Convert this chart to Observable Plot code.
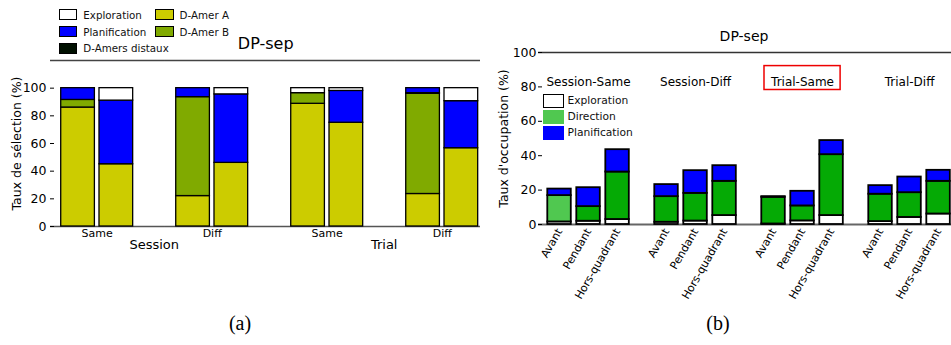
<!DOCTYPE html>
<html><head><meta charset="utf-8">
<script src="https://cdn.jsdelivr.net/npm/d3@7"></script>
<script src="https://cdn.jsdelivr.net/npm/@observablehq/plot@0.6"></script>
<style>
body{margin:0;background:#fff;font-family:"DejaVu Sans",sans-serif;}
#root{position:relative;width:951px;height:345px;overflow:hidden;background:#fff}
#root svg{max-width:none !important;}
.panel{position:absolute;top:0;overflow:hidden}
.title{position:absolute;transform:translate(-50%,-50%);white-space:nowrap;color:#000;font-family:"DejaVu Sans",sans-serif}
.lg-item{position:absolute;display:flex;align-items:center;white-space:nowrap;color:#111;font-family:"DejaVu Sans",sans-serif}
.sw{box-sizing:border-box;display:inline-block}
.caption{position:absolute;font-family:"Liberation Serif",serif;font-size:20px;transform:translate(-50%,-50%)}
</style></head><body><div id="root">
<div id="pa" class="panel" style="left:0;width:480px;height:300px"></div>
<div id="pb" class="panel" style="left:490px;width:461px;height:310px"></div>
</div>
<script>
// ---------- Panel (a) data ----------
const groupsA = ["Session-Same","Session-Diff","Trial-Same","Trial-Diff"];
const barsA = ["1","2"];
const seriesA = ["D-Amer A","D-Amer B","D-Amers distaux","Planification","Exploration"];
const damerA  = [86.0, 45.0, 22.0, 46.0, 88.7, 75.0, 23.5, 56.6];
const damerB  = [ 5.5,  0.0, 71.5,  0.0,  7.7,  0.0, 72.4,  0.0];
const distaux = [ 0.0,  0.0,  0.0,  0.0,  0.0,  0.0,  0.5,  0.0];
const planifA = [ 8.5, 46.0,  6.5, 49.5,  0.0, 23.0,  3.6, 34.0];
const explorA = [ 0.0,  9.0,  0.0,  4.5,  3.6,  2.0,  0.0,  9.4];
const yTicksA = [0,20,40,60,80,100];
const levelsA = ["Session","Trial"];
const legendOrderA = ["Exploration","Planification","D-Amers distaux","D-Amer A","D-Amer B"];

// ---------- Panel (b) data ----------
const groupsB = ["Session-Same","Session-Diff","Trial-Same","Trial-Diff"];
const phasesB = ["Avant","Pendant","Hors-quadrant"];
const seriesB = ["Exploration","Direction","Planification"];
const explorB    = [1.5, 1.9,  2.9, 1.3,  2.0,  5.2, 0.3, 2.1,  5.2, 1.7,  4.1,  6.1];
const directionB = [15.3, 8.5, 27.6, 14.9, 16.1, 19.9, 15.5, 8.7, 35.4, 15.9, 14.4, 19.0];
const planifB    = [3.8, 11.0, 13.0, 7.0, 13.2,  9.1, 0.4, 8.5,  8.2, 5.0,  9.1,  6.4];
const yTicksB = [0,20,40,60,80,100];
const highlightB = ["Trial-Same"];

// ---------- styles ----------
const colorsA = {"D-Amer A":"#cccc00","D-Amer B":"#80aa00","D-Amers distaux":"#001000","Planification":"#0000ff","Exploration":"#ffffff"};
const colorsB = {"Exploration":"#ffffff","Direction":"#05aa05","Planification":"#0000ff"};
const firstDirection = "#50c850";

// ---------- long tables ----------
const valsA = {"D-Amer A":damerA,"D-Amer B":damerB,"D-Amers distaux":distaux,"Planification":planifA,"Exploration":explorA};
const dataA = [];
groupsA.forEach((g,gi)=>barsA.forEach((b,bi)=>seriesA.forEach(s=>{
  const v = valsA[s][gi*barsA.length+bi];
  if (v > 0) dataA.push({group:g, bar:b, series:s, value:v});
})));
const valsB = {"Exploration":explorB,"Direction":directionB,"Planification":planifB};
const dataB = [];
groupsB.forEach((g,gi)=>phasesB.forEach((p,pi)=>seriesB.forEach(s=>{
  const v = valsB[s][gi*phasesB.length+pi];
  if (v > 0) dataB.push({group:g, phase:p, series:s, value:v});
})));

const baseStyle = {fontFamily:"DejaVu Sans, sans-serif", fontSize:"12px", background:"transparent", overflow:"visible", color:"#000", maxWidth:"none"};

const plotA = Plot.plot({
  width: 500, height: 262, marginLeft: 50, marginRight: 11.6, marginTop: 60, marginBottom: 36,
  style: baseStyle,
  fx: {domain: groupsA, paddingInner: 0.188, paddingOuter: 0, round: false},
  x: {domain: barsA, paddingInner: 0.12, paddingOuter: 0.28, round: false, axis: null},
  y: {domain: [0,120]},
  marks: [
    Plot.ruleY([120], {stroke:"#444", strokeWidth:1.3, insetRight:-21.6}),
    Plot.ruleY([0], {stroke:"#555", strokeWidth:1.6, insetRight:-21.6}),
    Plot.barY(dataA, {fx:"group", x:"bar", y:"value", z:"series", order: seriesA,
      fill: d => colorsA[d.series], stroke:"#000", strokeWidth:1.3}),
    Plot.axisY(yTicksA, {anchor:"left", tickSize:-4, tickPadding:8, fontSize:12.5, line:true,
      label:"Taux de sélection (%)", labelAnchor:"center", labelOffset:38, labelArrow:"none"}),
    Plot.axisFx({anchor:"bottom", tickSize:0, tickPadding:3, fontSize:11, label:null,
      tickFormat: g => g.split("-")[1]}),
    Plot.text(levelsA, {fx: d => d + "-Same", text: d => d, frameAnchor:"bottom", dy:22, dx:57, fontSize:13})
  ]
});
document.getElementById("pa").append(plotA);

const plotB = Plot.plot({
  width: 480, height: 304, marginLeft: 48, marginRight: 10.9, marginTop: 52, marginBottom: 80,
  style: baseStyle,
  fx: {domain: groupsB, paddingInner: 0.0645, paddingOuter: 0, round: false, axis: null},
  x: {domain: phasesB, paddingInner: 0.19, paddingOuter: 0.32, round: false},
  y: {domain: [0,100]},
  marks: [
    Plot.ruleY([100], {stroke:"#333", strokeWidth:1.5, insetRight:-6.9}),
    Plot.ruleY([0], {stroke:"#666", strokeWidth:2, insetRight:-6.9}),
    Plot.barY(dataB, {fx:"group", x:"phase", y:"value", z:"series", order: seriesB,
      fill: d => (d.series === "Direction" && d.group === groupsB[0] && d.phase === phasesB[0]) ? firstDirection : colorsB[d.series],
      stroke:"#000", strokeWidth:1.8}),
    Plot.axisY(yTicksB, {anchor:"left", tickSize:-4, tickPadding:6, fontSize:12.5, line:true,
      label:"Taux d'occupation (%)", labelAnchor:"center", labelOffset:39, labelArrow:"none"}),
    Plot.axisX({anchor:"bottom", tickSize:0, tickPadding:5, tickRotate:-60, fontSize:11, label:null}),
    Plot.text(groupsB, {fx: d => d, text: d => d, frameAnchor:"top", dy:25, fontSize:12}),
    Plot.barY(highlightB, {fx: d => d, x: () => phasesB[1], y1: 78.2, y2: 92.1, fill:"none",
      stroke:"#ee0000", strokeWidth:1.5, insetLeft:-26.3, insetRight:-26.3})
  ]
});
document.getElementById("pb").append(plotB);

// ---------- titles, legends, captions ----------
const root = document.getElementById("root");
function addText(cls, txt, x, y, size){
  const el = document.createElement("div"); el.className = cls; el.textContent = txt;
  el.style.left = x+"px"; el.style.top = y+"px"; if (size) el.style.fontSize = size+"px";
  root.append(el);
}
addText("title","DP-sep",265.7,43,16);
addText("title","DP-sep",744,35.7,14);
addText("caption","(a)",240,323);
addText("caption","(b)",718,323);

function addLegend(items, L){
  items.forEach((it,i)=>{
    const col = Math.floor(i/L.rows), row = i % L.rows;
    const el = document.createElement("div"); el.className = "lg-item";
    el.style.left = (L.x + col*L.colW)+"px"; el.style.top = (L.y + row*L.rowH)+"px";
    el.style.fontSize = L.fontSize+"px"; el.style.height = L.swH+"px";
    const sw = document.createElement("span"); sw.className = "sw";
    sw.style.width = L.swW+"px"; sw.style.height = L.swH+"px"; sw.style.background = it.color;
    sw.style.border = it.border ? "1px solid #000" : "none";
    const tx = document.createElement("span"); tx.textContent = it.label; tx.style.marginLeft = L.gap+"px";
    el.append(sw, tx); root.append(el);
  });
}
addLegend(legendOrderA.map(s=>({label:s, color:colorsA[s], border:true})),
  {x:59, y:9.3, rows:3, colW:96.3, rowH:16.7, swW:18.3, swH:11, gap:6, fontSize:10.3});
addLegend(seriesB.map(s=>({label:s, color: s==="Direction" ? firstDirection : colorsB[s], border: s==="Exploration"})),
  {x:543, y:94, rows:3, colW:0, rowH:16, swW:20.5, swH:13.5, gap:4, fontSize:10.7});
</script></body></html>
